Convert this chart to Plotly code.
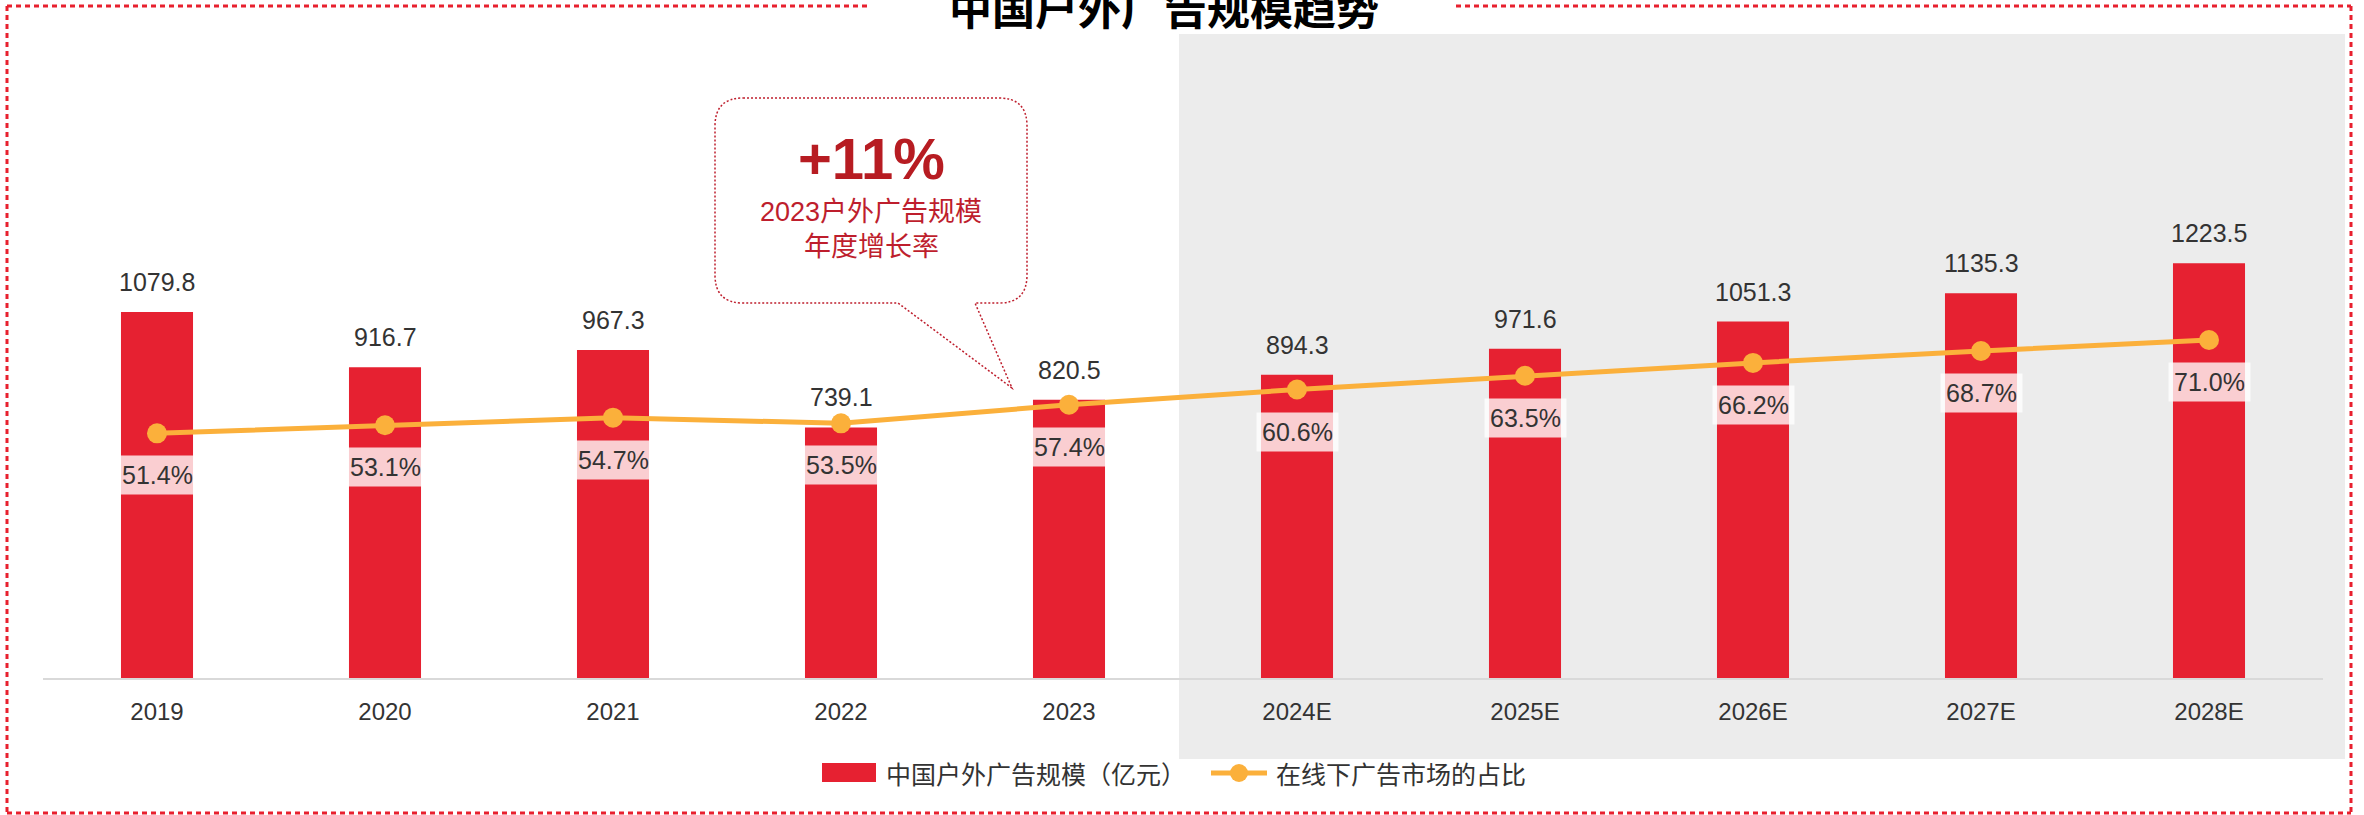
import plotly.graph_objects as go

# ---------------- data ----------------
categories = ["2019", "2020", "2021", "2022", "2023", "2024E", "2025E", "2026E", "2027E", "2028E"]
market_size = [1079.8, 916.7, 967.3, 739.1, 820.5, 894.3, 971.6, 1051.3, 1135.3, 1223.5]
offline_share = [51.4, 53.1, 54.7, 53.5, 57.4, 60.6, 63.5, 66.2, 68.7, 71.0]
bar_name = "中国户外广告规模（亿元）"
line_name = "在线下广告市场的占比"
title_text = "中国户外广告规模趋势"
callout_big = "+11%"
callout_line1 = "2023户外广告规模"
callout_line2 = "年度增长率"

# ---------------- style ----------------
W, H = 2364, 815
ML, MR, MT, MB = 43, 41, 100, 137
PLOT_W = W - ML - MR
PLOT_H = H - MT - MB
BAR_COLOR = "#E62131"
LINE_COLOR = "#FBB03B"
TEXT_COLOR = "#333333"
CALLOUT_COLOR = "#BE1E2D"
BORDER_COLOR = "#E8202E"
LATIN = "Liberation Sans, Arial, Noto Sans CJK SC, sans-serif"
CJK = "Noto Sans CJK SC, Liberation Sans, sans-serif"


def px_x(px):
    return (px - ML) / PLOT_W


def px_y(py):
    return (H - MB - py) / PLOT_H


fig = go.Figure()
fig.add_trace(go.Bar(
    x=categories, y=market_size, name=bar_name,
    marker=dict(color=BAR_COLOR, line=dict(width=0)),
    width=0.316, showlegend=False, hoverinfo="x+y",
))
fig.add_trace(go.Scatter(
    x=categories, y=offline_share, name=line_name, yaxis="y2",
    mode="lines+markers",
    line=dict(color=LINE_COLOR, width=5),
    marker=dict(color=LINE_COLOR, size=20),
    showlegend=False,
))

annotations = []
for i, v in enumerate(market_size):
    annotations.append(dict(
        x=i, y=v, xref="x", yref="y", text=f"{v:.1f}", showarrow=False,
        yanchor="middle", yshift=30,
        font=dict(family=LATIN, size=25, color=TEXT_COLOR),
    ))
for i, p in enumerate(offline_share):
    annotations.append(dict(
        x=i, y=p, xref="x", yref="y2", text=f"{p:.1f}%", showarrow=False,
        yanchor="middle", yshift=-42,
        bgcolor="rgba(255,255,255,0.78)", borderpad=5,
        font=dict(family=LATIN, size=25, color=TEXT_COLOR),
    ))

# title (partially cut at top)
annotations.append(dict(
    x=px_x(1164), y=px_y(6), xref="paper", yref="paper", text=f"<b>{title_text}</b>",
    showarrow=False, xanchor="center", yanchor="middle",
    font=dict(family=CJK, size=43, color="#000000"),
))
# callout texts
annotations.append(dict(
    x=px_x(871), y=px_y(158), xref="paper", yref="paper", text=f"<b>{callout_big}</b>",
    showarrow=False, xanchor="center", yanchor="middle",
    font=dict(family=LATIN, size=58, color="#B71C22"),
))
annotations.append(dict(
    x=px_x(871), y=px_y(212), xref="paper", yref="paper", text=callout_line1,
    showarrow=False, xanchor="center", yanchor="middle",
    font=dict(family=LATIN, size=27, color=CALLOUT_COLOR),
))
annotations.append(dict(
    x=px_x(871), y=px_y(245), xref="paper", yref="paper", text=callout_line2,
    showarrow=False, xanchor="center", yanchor="middle",
    font=dict(family=CJK, size=27, color=CALLOUT_COLOR),
))
# legend texts
annotations.append(dict(
    x=px_x(884), y=px_y(773), xref="paper", yref="paper", text=bar_name,
    showarrow=False, xanchor="left", yanchor="middle",
    font=dict(family=CJK, size=25, color=TEXT_COLOR),
))
annotations.append(dict(
    x=px_x(1274), y=px_y(773), xref="paper", yref="paper", text=line_name,
    showarrow=False, xanchor="left", yanchor="middle",
    font=dict(family=CJK, size=25, color=TEXT_COLOR),
))

shapes = []
# forecast shading
shapes.append(dict(type="rect", xref="paper", yref="paper", layer="below",
                   x0=px_x(1179), x1=px_x(2345), y0=px_y(759), y1=px_y(34),
                   fillcolor="#ECECEC", line=dict(width=0)))
# dotted frame
bdash = "5px,4px"
for (x0, y0, x1, y1) in [(7, 6, 870, 6), (1456, 6, 2351, 6), (7, 6, 7, 813),
                         (2351, 6, 2351, 813), (7, 813, 2351, 813)]:
    shapes.append(dict(type="line", xref="paper", yref="paper",
                       x0=px_x(x0), y0=px_y(y0), x1=px_x(x1), y1=px_y(y1),
                       line=dict(color=BORDER_COLOR, width=3, dash=bdash)))

# callout bubble path
L, R, T, B, r = 715, 1027, 98, 303, 28
tl, tr, tip = 898, 975, (1012, 388)


def P(x, y):
    return f"{px_x(x):.5f},{px_y(y):.5f}"


path = (f"M {P(L + r, T)} L {P(R - r, T)} Q {P(R, T)} {P(R, T + r)} "
        f"L {P(R, B - r)} Q {P(R, B)} {P(R - r, B)} L {P(tr, B)} L {P(*tip)} L {P(tl, B)} "
        f"L {P(L + r, B)} Q {P(L, B)} {P(L, B - r)} L {P(L, T + r)} Q {P(L, T)} {P(L + r, T)} Z")
shapes.append(dict(type="path", xref="paper", yref="paper", path=path,
                   line=dict(color=CALLOUT_COLOR, width=1.5, dash="2px,2px"),
                   fillcolor="rgba(0,0,0,0)"))

# manual legend symbols
shapes.append(dict(type="rect", xref="paper", yref="paper",
                   x0=px_x(822), x1=px_x(876), y0=px_y(782), y1=px_y(763),
                   fillcolor=BAR_COLOR, line=dict(width=0)))
shapes.append(dict(type="line", xref="paper", yref="paper",
                   x0=px_x(1211), x1=px_x(1267), y0=px_y(773), y1=px_y(773),
                   line=dict(color=LINE_COLOR, width=5)))
shapes.append(dict(type="circle", xref="paper", yref="paper",
                   x0=px_x(1230), x1=px_x(1248), y0=px_y(782), y1=px_y(764),
                   fillcolor=LINE_COLOR, line=dict(width=0)))

fig.update_layout(
    width=W, height=H,
    margin=dict(l=ML, r=MR, t=MT, b=MB, pad=0),
    paper_bgcolor="white", plot_bgcolor="rgba(0,0,0,0)",
    showlegend=False,
    xaxis=dict(type="category", categoryorder="array", categoryarray=categories,
               range=[-0.5, len(categories) - 0.5], autorange=False,
               showline=True, linecolor="#D9D9D9", linewidth=2,
               ticks="", showgrid=False, zeroline=False, ticklabelstandoff=11,
               tickfont=dict(family=LATIN, size=24, color=TEXT_COLOR)),
    yaxis=dict(range=[0, PLOT_H / 0.339], autorange=False, visible=False,
               showgrid=False, zeroline=False),
    yaxis2=dict(range=[0, PLOT_H / 4.76], autorange=False, overlaying="y", visible=False,
                showgrid=False, zeroline=False),
    annotations=annotations,
    shapes=shapes,
)

fig.write_html(
    "out.html",
    config={"displayModeBar": False},
    post_script="document.body.style.margin='0';document.body.style.overflow='hidden';",
)
